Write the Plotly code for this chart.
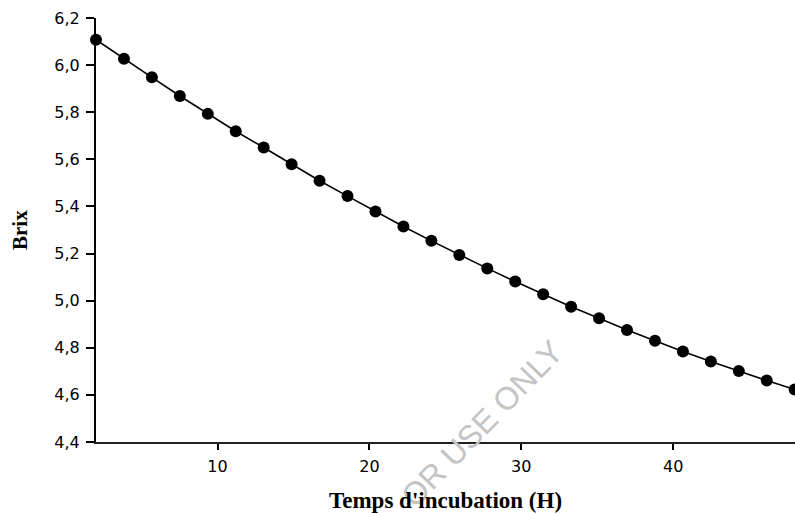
import plotly.graph_objects as go

# Incubation time (hours) and measured Brix
hours = [2.00, 3.84, 5.68, 7.52, 9.36, 11.20, 13.04, 14.88, 16.72, 18.56,
         20.40, 22.24, 24.08, 25.92, 27.76, 29.60, 31.44, 33.28, 35.12, 36.96,
         38.80, 40.64, 42.48, 44.32, 46.16, 48.00]
brix = [6.108, 6.027, 5.948, 5.869, 5.793, 5.719, 5.650, 5.579, 5.509, 5.444,
        5.379, 5.315, 5.254, 5.194, 5.137, 5.081, 5.027, 4.974, 4.925, 4.875,
        4.830, 4.784, 4.742, 4.701, 4.661, 4.623]

x_ticks = [10, 20, 30, 40]
y_ticks = [4.4, 4.6, 4.8, 5.0, 5.2, 5.4, 5.6, 5.8, 6.0, 6.2]

fig = go.Figure()
fig.add_trace(go.Scatter(
    x=hours, y=brix, mode="lines+markers",
    line=dict(color="black", width=1.6),
    marker=dict(color="black", size=12),
    cliponaxis=False,
    showlegend=False,
))

tick_font = dict(family="DejaVu Sans", size=16, color="black")

fig.update_layout(
    width=795, height=514,
    margin=dict(l=96, r=0, t=18, b=72),
    paper_bgcolor="white", plot_bgcolor="white",
    separators=",.",
    xaxis=dict(
        range=[2, 48.02], tickvals=x_ticks, ticks="outside", ticklen=6,
        tickwidth=1.5, tickcolor="black", showline=True, linecolor="#222",
        linewidth=1.6, showgrid=False, zeroline=False, tickfont=tick_font,
        ticklabelstandoff=3,
    ),
    yaxis=dict(
        range=[4.4, 6.2], tickvals=y_ticks, tickformat=".1f", ticks="outside",
        ticklen=8, tickwidth=1.5, tickcolor="black", showline=True,
        linecolor="black", linewidth=2, showgrid=False, zeroline=False,
        tickfont=tick_font, ticklabelstandoff=3,
    ),
    annotations=[
        dict(text="OR USE ONLY", xref="paper", yref="paper",
             x=(482 - 96) / 699, y=(442 - 424) / 424,
             xanchor="center", yanchor="middle", textangle=-46,
             showarrow=False,
             font=dict(family="Liberation Sans", size=32, color="#c4c4c4")),
        dict(text="<b>Temps d'incubation (H)</b>", xref="paper", yref="paper",
             x=0.5, y=0, yshift=-58, xanchor="center", yanchor="middle",
             showarrow=False,
             font=dict(family="Liberation Serif", size=23, color="black")),
        dict(text="<b>Brix</b>", xref="paper", yref="paper",
             x=0, y=0.5, xshift=-76, xanchor="center", yanchor="middle",
             textangle=-90, showarrow=False,
             font=dict(family="Liberation Serif", size=21, color="black")),
    ],
)

fig.write_html("out.html")
